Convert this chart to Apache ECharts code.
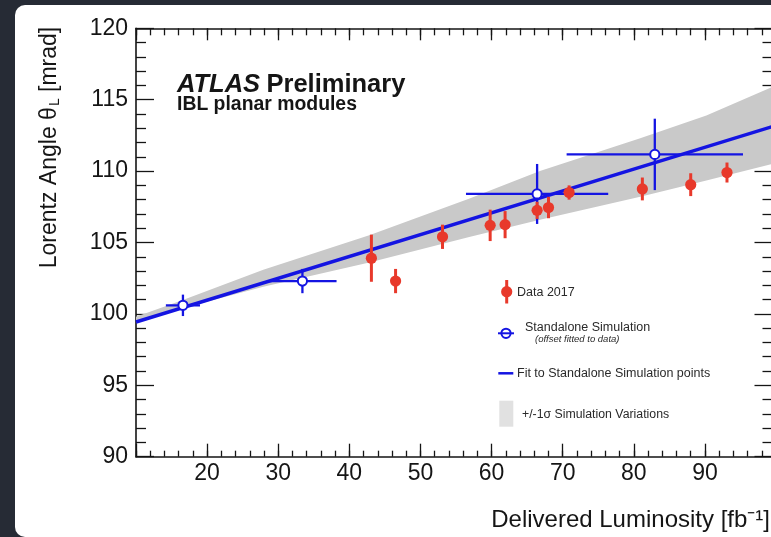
<!DOCTYPE html>
<html><head><meta charset="utf-8">
<script src="https://cdn.jsdelivr.net/npm/echarts@6/dist/echarts.min.js"></script>
<style>
html,body{margin:0;padding:0;background:#262b35;overflow:hidden;}
#card{position:absolute;left:15px;top:5px;width:800px;height:532px;background:#fff;border-radius:10px;}
#c{position:absolute;left:0;top:0;width:771px;height:537px;}
</style>
</head><body><div id="card"></div><div id="c"></div>
<script>
// Data 2017 (red points)
const dataLumi  = [43.1, 46.5, 53.1, 59.8, 61.9, 66.4, 68.0, 70.9, 81.2, 88.0, 93.1];
const dataAngle = [103.9, 102.3, 105.4, 106.2, 106.25, 107.25, 107.45, 108.5, 108.75, 109.05, 109.9];
const dataErr   = [1.65, 0.85, 0.85, 1.1, 0.95, 0.6, 0.75, 0.5, 0.8, 0.8, 0.7];
// Standalone simulation (blue open points)
const simLumi     = [16.6, 33.4, 66.4, 82.95];
const simAngle    = [100.6, 102.3, 108.4, 111.17];
const simLumiErr  = [2.4, 4.8, 10.0, 12.4];
const simAngleErr = [0.75, 0.85, 2.1, 2.5];
// Fit to standalone simulation points
const fitLumi  = [10, 99.5];
const fitAngle = [99.43, 113.12];
// +/-1 sigma simulation variations band
const bandLumi = [10, 16.5, 27.9, 42.8, 57.0, 66.8, 80.9, 90.2, 99.5];
const bandLow  = [99.4, 100.4, 101.9, 103.6, 105.4, 106.6, 108.2, 109.35, 110.5];
const bandHigh = [99.8, 100.95, 103.1, 105.5, 108.1, 110.0, 112.3, 113.9, 115.9];
// Axis ticks
const xMin = 10, xMax = 99.5, xMajor = 10, xMinor = 2;
const yMin = 90, yMax = 120, yMajor = 5;

const RED = '#e8392b', BLUE = '#1414e2', GREY = '#c9c9c9', INK = '#151515';
const FONT = "'Liberation Sans', Arial, Helvetica, sans-serif";

const chart = echarts.init(document.getElementById('c'), null, {renderer: 'canvas'});

function xAxisDef(pos, interval, len, withLine, withLabel) {
  return {
    type: 'value', position: pos, min: xMin, max: xMax, interval: interval,
    axisLine: {show: withLine, onZero: false, lineStyle: {color: INK, width: 1.6}},
    axisTick: {show: true, inside: true, length: len, lineStyle: {color: INK, width: 1.3}},
    axisLabel: {show: withLabel, margin: 5, fontSize: 23, fontFamily: FONT, color: INK,
      formatter: v => (Math.abs(v % xMajor) < 1e-6 && v > xMin) ? String(v) : ''},
    splitLine: {show: false}, minorTick: {show: false}
  };
}
function yAxisDef(pos, withLabel) {
  return {
    type: 'value', position: pos, min: yMin, max: yMax, interval: yMajor,
    axisLine: {show: true, onZero: false, lineStyle: {color: INK, width: 1.6}},
    axisTick: {show: true, inside: true, length: 18, lineStyle: {color: INK, width: 1.3}},
    minorTick: {show: true, splitNumber: 5, length: 10, lineStyle: {color: INK, width: 1.3}},
    axisLabel: {show: withLabel, margin: 8, fontSize: 23, fontFamily: FONT, color: INK},
    splitLine: {show: false}
  };
}

const bandData = bandLumi.map((x, i) => [x, bandLow[i], bandHigh[i]]);

const option = {
  animation: false,
  backgroundColor: 'transparent',
  grid: {left: 136, right: -1.5, top: 28.3, bottom: 80.3, containLabel: false, outerBoundsMode: 'none'},
  xAxis: [
    xAxisDef('bottom', xMajor, 13, true, true),
    xAxisDef('bottom', xMinor, 6, false, false),
    xAxisDef('top', xMajor, 12, true, false),
    xAxisDef('top', xMinor, 7, false, false)
  ],
  yAxis: [yAxisDef('left', true), yAxisDef('right', false)],
  series: [
    {
      type: 'custom', name: 'band', z: 1, clip: true,
      data: [[bandLumi[0], bandLow[0]]],
      encode: {x: 0, y: 1},
      renderItem: function (params, api) {
        const pts = [];
        bandData.forEach(d => pts.push(api.coord([d[0], d[2]])));
        for (let i = bandData.length - 1; i >= 0; i--) pts.push(api.coord([bandData[i][0], bandData[i][1]]));
        return {type: 'polygon', shape: {points: pts}, style: {fill: GREY}};
      }
    },
    {
      type: 'line', name: 'fit', z: 3, showSymbol: false, clip: true,
      data: fitLumi.map((x, i) => [x, fitAngle[i]]),
      lineStyle: {color: BLUE, width: 3.5}
    },
    {
      type: 'custom', name: 'sim', z: 4,
      data: simLumi.map((x, i) => [x, simAngle[i], simLumiErr[i], simAngleErr[i]]),
      encode: {x: 0, y: 1},
      renderItem: function (params, api) {
        const x = api.value(0), y = api.value(1), ex = api.value(2), ey = api.value(3);
        const c = api.coord([x, y]), l = api.coord([x - ex, y]), r = api.coord([x + ex, y]);
        const t = api.coord([x, y + ey]), b = api.coord([x, y - ey]);
        return {type: 'group', children: [
          {type: 'line', shape: {x1: l[0], y1: l[1], x2: r[0], y2: r[1]}, style: {stroke: BLUE, lineWidth: 2.3}},
          {type: 'line', shape: {x1: t[0], y1: t[1], x2: b[0], y2: b[1]}, style: {stroke: BLUE, lineWidth: 2.3}},
          {type: 'circle', shape: {cx: c[0], cy: c[1], r: 4.6}, style: {fill: '#fff', stroke: BLUE, lineWidth: 2}}
        ]};
      }
    },
    {
      type: 'custom', name: 'data', z: 5,
      data: dataLumi.map((x, i) => [x, dataAngle[i], dataErr[i]]),
      encode: {x: 0, y: 1},
      renderItem: function (params, api) {
        const x = api.value(0), y = api.value(1), e = api.value(2);
        const c = api.coord([x, y]), t = api.coord([x, y + e]), b = api.coord([x, y - e]);
        return {type: 'group', children: [
          {type: 'line', shape: {x1: t[0], y1: t[1], x2: b[0], y2: b[1]}, style: {stroke: RED, lineWidth: 3}},
          {type: 'circle', shape: {cx: c[0], cy: c[1], r: 5.6}, style: {fill: RED}}
        ]};
      }
    }
  ],
  graphic: [
    {type: 'text', x: 177, y: 85, z: 10, style: {
      text: 'ATLAS', fontFamily: FONT, fontSize: 25.5, fontWeight: 'bold', fontStyle: 'italic', fill: INK,
      verticalAlign: 'middle', align: 'left'}},
    {type: 'text', x: 266.5, y: 85, z: 10, style: {
      text: 'Preliminary', fontFamily: FONT, fontSize: 25.5, fontWeight: 'bold', fill: INK,
      verticalAlign: 'middle', align: 'left'}},
    {type: 'text', x: 177, y: 104.5, z: 10, style: {
      text: 'IBL planar modules', fontFamily: FONT, fontSize: 19.4, fontWeight: 'bold', fill: INK,
      verticalAlign: 'middle', align: 'left'}},
    {type: 'text', x: 770, y: 520, z: 10, style: {
      text: 'Delivered Luminosity [fb⁻¹]', fontFamily: FONT, fontSize: 24, fill: INK,
      verticalAlign: 'middle', align: 'right'}},
    {type: 'text', x: 50, y: 147.5, rotation: Math.PI / 2, z: 10, style: {
      text: '{m|Lorentz Angle θ}{s|L}{m| [mrad]}', align: 'center', verticalAlign: 'middle',
      rich: {
        m: {fontFamily: FONT, fontSize: 23, fill: INK, lineHeight: 24, verticalAlign: 'top'},
        s: {fontFamily: FONT, fontSize: 14, fill: INK, lineHeight: 14, padding: [13, 0, 0, 1], verticalAlign: 'bottom'}
      }}},
    // legend
    {type: 'line', z: 10, shape: {x1: 506.7, y1: 280, x2: 506.7, y2: 303.5}, style: {stroke: RED, lineWidth: 3}},
    {type: 'circle', z: 10, shape: {cx: 506.7, cy: 291.7, r: 5.6}, style: {fill: RED}},
    {type: 'text', x: 517, y: 292.5, z: 10, style: {text: 'Data 2017', fontFamily: FONT, fontSize: 12.5, fill: '#2a2a2a', verticalAlign: 'middle'}},
    {type: 'circle', z: 10, shape: {cx: 506, cy: 333.3, r: 4.6}, style: {fill: '#fff', stroke: BLUE, lineWidth: 2}},
    {type: 'line', z: 10, shape: {x1: 498, y1: 333.3, x2: 514, y2: 333.3}, style: {stroke: BLUE, lineWidth: 2}},
    {type: 'text', x: 525, y: 327.3, z: 10, style: {text: 'Standalone Simulation', fontFamily: FONT, fontSize: 12.5, fill: '#2a2a2a', verticalAlign: 'middle'}},
    {type: 'text', x: 535, y: 339.5, z: 10, style: {text: '(offset fitted to data)', fontFamily: FONT, fontSize: 9.5, fontStyle: 'italic', fill: '#2a2a2a', verticalAlign: 'middle'}},
    {type: 'line', z: 10, shape: {x1: 498.3, y1: 373.3, x2: 513.3, y2: 373.3}, style: {stroke: BLUE, lineWidth: 2.5}},
    {type: 'text', x: 517, y: 373.3, z: 10, style: {text: 'Fit to Standalone Simulation points', fontFamily: FONT, fontSize: 12.5, fill: '#2a2a2a', verticalAlign: 'middle'}},
    {type: 'rect', z: 10, shape: {x: 499.3, y: 400.7, width: 14, height: 26}, style: {fill: '#e1e1e1'}},
    {type: 'text', x: 522, y: 415, z: 10, style: {text: '+/-1σ Simulation Variations', fontFamily: FONT, fontSize: 12.3, fill: '#2a2a2a', verticalAlign: 'middle'}}
  ]
};
chart.setOption(option);
</script>
</body></html>
